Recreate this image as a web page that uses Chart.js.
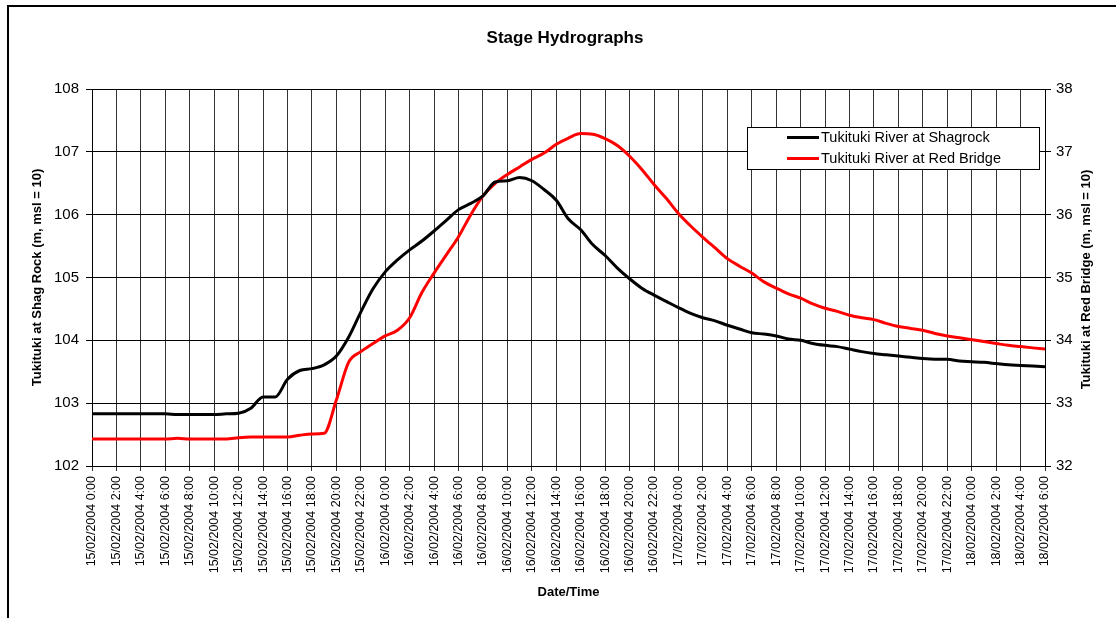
<!DOCTYPE html>
<html>
<head>
<meta charset="utf-8">
<script src="https://cdn.jsdelivr.net/npm/chart.js@4.4.1/dist/chart.umd.min.js"></script>
<style>
  html, body { margin: 0; padding: 0; background: #fff; }
  #wrap { width: 1116px; height: 618px; position: relative; }
</style>
</head>
<body>
<div id="wrap"><canvas id="c" width="1116" height="618"></canvas></div>
<script>
// ---- data ----
const chartTitle = "Stage Hydrographs";
const xAxisTitle = "Date/Time";
const leftAxisTitle = "Tukituki at Shag Rock (m, msl = 10)";
const rightAxisTitle = "Tukituki at Red Bridge (m, msl = 10)";
const seriesNames = ["Tukituki River at Shagrock", "Tukituki River at Red Bridge"];

// hours since 15/02/2004 0:00
const hours = [
  0,1,2,3,4,5,6,7,8,9,10,11,12,13,14,15,16,17,18,19,
  20,21,22,23,24,25,26,27,28,29,30,31,32,33,34,35,36,37,38,39,
  40,41,42,43,44,45,46,47,48,49,50,51,52,53,54,55,56,57,58,59,
  60,61,62,63,64,65,66,67,68,69,70,71,72,73,74,75,76,77,78
];

// Shagrock stage (left axis, m)
const shagrock = [
  102.83,102.83,102.83,102.83,102.83,102.83,102.83,102.82,102.82,102.82,
  102.82,102.83,102.84,102.92,103.10,103.10,103.38,103.52,103.55,103.61,
  103.75,104.05,104.45,104.82,105.09,105.28,105.44,105.58,105.74,105.91,
  106.08,106.18,106.30,106.52,106.54,106.59,106.54,106.40,106.23,105.93,
  105.76,105.52,105.35,105.15,104.98,104.83,104.72,104.62,104.52,104.43,
  104.36,104.31,104.24,104.18,104.12,104.10,104.07,104.02,104.00,103.95,
  103.92,103.90,103.86,103.82,103.79,103.77,103.75,103.73,103.71,103.70,
  103.70,103.67,103.66,103.65,103.63,103.61,103.60,103.59,103.58
];

// Red Bridge stage (right axis, m)
const redBridge = [
  32.43,32.43,32.43,32.43,32.43,32.43,32.43,32.44,32.43,32.43,
  32.43,32.43,32.45,32.46,32.46,32.46,32.46,32.49,32.51,32.52,
  33.05,33.65,33.82,33.95,34.07,34.16,34.36,34.76,35.07,35.36,
  35.65,36.00,36.30,36.50,36.64,36.76,36.88,36.98,37.12,37.22,
  37.29,37.28,37.21,37.10,36.93,36.72,36.48,36.26,36.02,35.82,
  35.64,35.47,35.30,35.18,35.07,34.93,34.83,34.74,34.67,34.58,
  34.51,34.46,34.40,34.36,34.33,34.27,34.22,34.19,34.16,34.11,
  34.07,34.04,34.01,33.98,33.95,33.92,33.90,33.88,33.86
];

// x tick labels, one every 2 hours
const tickLabels = [
  "15/02/2004 0:00","15/02/2004 2:00","15/02/2004 4:00","15/02/2004 6:00",
  "15/02/2004 8:00","15/02/2004 10:00","15/02/2004 12:00","15/02/2004 14:00",
  "15/02/2004 16:00","15/02/2004 18:00","15/02/2004 20:00","15/02/2004 22:00",
  "16/02/2004 0:00","16/02/2004 2:00","16/02/2004 4:00","16/02/2004 6:00",
  "16/02/2004 8:00","16/02/2004 10:00","16/02/2004 12:00","16/02/2004 14:00",
  "16/02/2004 16:00","16/02/2004 18:00","16/02/2004 20:00","16/02/2004 22:00",
  "17/02/2004 0:00","17/02/2004 2:00","17/02/2004 4:00","17/02/2004 6:00",
  "17/02/2004 8:00","17/02/2004 10:00","17/02/2004 12:00","17/02/2004 14:00",
  "17/02/2004 16:00","17/02/2004 18:00","17/02/2004 20:00","17/02/2004 22:00",
  "18/02/2004 0:00","18/02/2004 2:00","18/02/2004 4:00","18/02/2004 6:00"
];

// ---- chart ----
const FONT = '"Liberation Sans", Arial, sans-serif';
Chart.defaults.font.family = FONT;
Chart.defaults.color = '#000';

const framePlugin = {
  id: 'frame',
  beforeDraw(chart) {
    const ctx = chart.ctx;
    ctx.save();
    ctx.fillStyle = '#fff';
    ctx.fillRect(0, 0, chart.width, chart.height);
    ctx.fillStyle = '#000';
    ctx.fillRect(7, 5, 2, chart.height - 5);
    ctx.fillRect(7, 5, chart.width - 7, 2);
    ctx.restore();
  },
  afterDraw(chart) {
    const ctx = chart.ctx;
    const area = chart.chartArea;
    ctx.save();
    ctx.fillStyle = '#000';
    ctx.font = 'bold 17px ' + FONT;
    ctx.textAlign = 'center';
    ctx.textBaseline = 'middle';
    ctx.fillText(chartTitle, 565, 38);
    // right axis title, reading bottom-to-top like the left one
    const r = chart.scales.y1;
    ctx.font = 'bold 13px ' + FONT;
    ctx.translate(r.right - 30, (area.top + area.bottom) / 2 + 2);
    ctx.rotate(-Math.PI / 2);
    ctx.fillText(rightAxisTitle, 0, 0);
    ctx.restore();
  }
};

const legendBoxPlugin = {
  id: 'legendBox',
  afterDatasetsDraw(chart) {
    const ctx = chart.ctx;
    const bx = 747.5, by = 127.5, bw = 292, bh = 42;
    ctx.save();
    ctx.fillStyle = '#fff';
    ctx.fillRect(bx, by, bw, bh);
    ctx.strokeStyle = '#000';
    ctx.lineWidth = 1;
    ctx.strokeRect(bx, by, bw, bh);
    ctx.font = '14.5px ' + FONT;
    ctx.textBaseline = 'middle';
    ctx.textAlign = 'left';
    chart.data.datasets.forEach((ds, i) => {
      const y = 137.5 + i * 21;
      ctx.strokeStyle = ds.borderColor;
      ctx.lineWidth = 3;
      ctx.beginPath();
      ctx.moveTo(787, y);
      ctx.lineTo(819, y);
      ctx.stroke();
      ctx.fillStyle = '#000';
      ctx.fillText(ds.label, 821, y + 0.5);
    });
    ctx.restore();
  }
};

new Chart(document.getElementById('c'), {
  type: 'line',
  data: {
    datasets: [
      {
        label: seriesNames[0],
        data: hours.map((h, i) => ({ x: h, y: shagrock[i] })),
        borderColor: '#000000',
        borderWidth: 3,
        pointRadius: 0,
        cubicInterpolationMode: 'monotone',
        yAxisID: 'y'
      },
      {
        label: seriesNames[1],
        data: hours.map((h, i) => ({ x: h, y: redBridge[i] })),
        borderColor: '#ff0000',
        borderWidth: 3,
        pointRadius: 0,
        cubicInterpolationMode: 'monotone',
        yAxisID: 'y1'
      }
    ]
  },
  options: {
    responsive: false,
    animation: false,
    layout: { padding: { top: 89, left: 0, right: 0, bottom: 0 } },
    plugins: {
      legend: { display: false },
      title: { display: false },
      tooltip: { enabled: false }
    },
    scales: {
      x: {
        type: 'linear',
        min: 0,
        max: 78,
        afterFit(s) { s.height = 152; },
        ticks: {
          stepSize: 2,
          autoSkip: false,
          maxRotation: 90,
          minRotation: 90,
          padding: 5,
          font: { size: 12.5 },
          color: '#000',
          callback: (v) => tickLabels[Math.round(v / 2)]
        },
        grid: { color: '#333', lineWidth: 1, tickLength: 5, drawTicks: true },
        border: { color: '#000', width: 1 },
        title: {
          display: true,
          text: xAxisTitle,
          font: { size: 13, weight: 'bold' },
          color: '#000',
          padding: { top: 0, bottom: 18 }
        }
      },
      y: {
        position: 'left',
        min: 102,
        max: 108,
        afterFit(s) { s.width = 92; },
        ticks: { stepSize: 1, padding: 7, font: { size: 15 }, color: '#000' },
        grid: { color: '#000', lineWidth: 1, tickLength: 6 },
        border: { color: '#000', width: 1 },
        title: {
          display: true,
          text: leftAxisTitle,
          font: { size: 13, weight: 'bold' },
          color: '#000',
          padding: { top: 30, bottom: 0 }
        }
      },
      y1: {
        position: 'right',
        min: 32,
        max: 38,
        afterFit(s) { s.width = 71; },
        ticks: { stepSize: 1, padding: 5, font: { size: 15 }, color: '#000' },
        grid: { drawOnChartArea: false, color: '#000', lineWidth: 1, tickLength: 6 },
        border: { color: '#000', width: 1 },
        title: { display: false, text: rightAxisTitle }
      }
    }
  },
  plugins: [framePlugin, legendBoxPlugin]
});
</script>
</body>
</html>
